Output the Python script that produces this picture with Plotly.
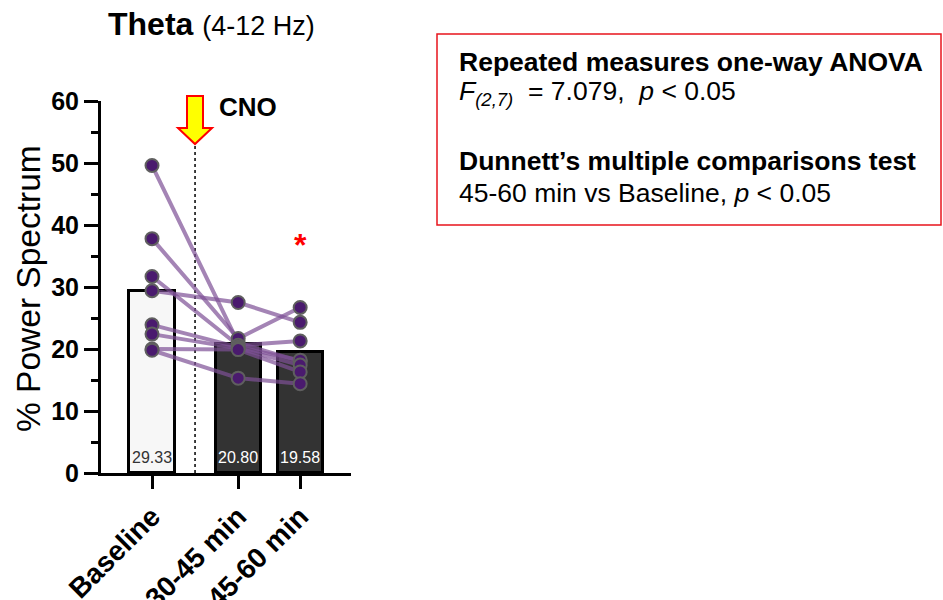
import plotly.graph_objects as go

# ---------------- data ----------------
categories = ["Baseline", "30-45 min", "45-60 min"]
means = [29.33, 20.80, 19.58]
baseline = [49.6, 37.8, 31.7, 29.4, 23.9, 22.4, 20.0, 19.8]
min30_45 = [21.0, 21.7, 20.6, 27.5, 20.3, 20.1, 19.9, 15.3]
min45_60 = [18.0, 26.7, 21.3, 24.3, 18.2, 17.4, 16.3, 14.4]
y_ticks = [0, 10, 20, 30, 40, 50, 60]

# ---------------- layout helpers ----------------
W, H = 943, 600
PL, PR, PT, PB = 101, 351, 101, 473   # plot area in pixels
x_pos = [0.0, 1.39, 2.39]             # category positions (uneven gap for CNO)
x_range = [-0.823, 3.21]
FONT = "Liberation Sans, Arial, sans-serif"


def px(x):
    return (x - PL) / (PR - PL)


def py(y):
    return (PB - y) / (PB - PT)


fig = go.Figure()

# bars
fig.add_trace(go.Bar(
    x=x_pos, y=means, width=0.73,
    marker=dict(color=["#f7f7f7", "#333333", "#333333"],
                line=dict(color="black", width=3)),
    hoverinfo="skip", showlegend=False,
))

# subject lines
series = [baseline, min30_45, min45_60]
for i in range(len(baseline)):
    fig.add_trace(go.Scatter(
        x=x_pos, y=[s[i] for s in series], mode="lines",
        line=dict(color="rgba(125,80,150,0.7)", width=4),
        showlegend=False, hoverinfo="skip",
    ))
# markers
for j, s in enumerate(series):
    fig.add_trace(go.Scatter(
        x=[x_pos[j]] * len(s), y=s, mode="markers",
        marker=dict(size=13, color="#4a1a6e", line=dict(color="#5f5f5f", width=2)),
        showlegend=False, hoverinfo="skip",
    ))

shapes = []
# dotted CNO line
shapes.append(dict(type="line", xref="x", yref="y", x0=0.694, x1=0.694, y0=0, y1=53.2,
                   line=dict(color="black", width=1.5, dash="dot"), layer="below"))
# arrow
pts = [(187, 96), (203, 96), (203, 128), (212, 128), (195, 144), (178, 128), (187, 128)]
path = "M " + " L ".join(f"{px(a):.4f},{py(b):.4f}" for a, b in pts) + " Z"
shapes.append(dict(type="path", xref="paper", yref="paper", path=path,
                   fillcolor="#ffff00", line=dict(color="#ff0000", width=2)))
# stats box
shapes.append(dict(type="rect", xref="paper", yref="paper",
                   x0=px(437), x1=px(941), y0=py(225), y1=py(34),
                   line=dict(color="#e8141c", width=1.5)))

ann = []
ann.append(dict(xref="paper", yref="paper", x=px(211), y=py(24), showarrow=False,
                text="<b>Theta</b> <span style='font-size:27px'>(4-12 Hz)</span>",
                font=dict(family=FONT, size=32, color="black"), xanchor="center", yanchor="middle"))
ann.append(dict(xref="paper", yref="paper", x=px(217), y=py(107), showarrow=False,
                text="<b>CNO</b>", font=dict(family=FONT, size=26, color="black"),
                xanchor="left", yanchor="middle"))
ann.append(dict(xref="paper", yref="paper", x=px(28), y=py(289), showarrow=False,
                text="% Power Spectrum", textangle=-90,
                font=dict(family=FONT, size=33.5, color="black"), xanchor="center", yanchor="middle"))
ann.append(dict(xref="x", yref="y", x=x_pos[2], y=36.7, showarrow=False,
                text="<b>*</b>", font=dict(family=FONT, size=32, color="#ff0000"),
                xanchor="center", yanchor="middle"))
label_colors = ["#333333", "white", "white"]
for j, m in enumerate(means):
    ann.append(dict(xref="x", yref="y", x=x_pos[j], y=2.5, showarrow=False,
                    text=f"{m:.2f}", font=dict(family=FONT, size=16, color=label_colors[j]),
                    xanchor="center", yanchor="middle"))

box_lines = [
    (62, "<b>Repeated measures one-way ANOVA</b>"),
    (93, "<i>F</i><sub><i>(2,7)</i></sub>  = 7.079,  <i>p</i> &lt; 0.05"),
    (161, "<b>Dunnett\u2019s multiple comparisons test</b>"),
    (193, "45-60 min vs Baseline, <i>p</i> &lt; 0.05"),
]
for yy, t in box_lines:
    ann.append(dict(xref="paper", yref="paper", x=px(457), y=py(yy), showarrow=False,
                    text=t, font=dict(family=FONT, size=26.5, color="black"),
                    xanchor="left", yanchor="middle"))

fig.update_layout(
    width=W, height=H,
    margin=dict(l=PL, r=W - PR, t=PT, b=H - PB, autoexpand=False),
    paper_bgcolor="white", plot_bgcolor="white",
    shapes=shapes, annotations=ann, bargap=0,
    xaxis=dict(range=x_range, tickvals=x_pos, ticktext=categories, tickangle=-45,
               automargin=False,
               showline=True, linecolor="black", linewidth=3, ticks="outside",
               ticklen=13, tickwidth=3, tickcolor="black", showgrid=False, zeroline=False,
               tickfont=dict(family=FONT, size=28, color="black", weight="bold")),
    yaxis=dict(range=[0, 60], tickvals=y_ticks, showline=True, linecolor="black", linewidth=3,
               automargin=False,
               ticks="outside", ticklen=14, tickwidth=3, tickcolor="black",
               showgrid=False, zeroline=False,
               minor=dict(dtick=5, ticks="outside", ticklen=7, tickwidth=3, tickcolor="black",
                          showgrid=False),
               tickfont=dict(family=FONT, size=25, color="black", weight="bold")),
)

fig.write_html("out.html", config={"displayModeBar": False},
               post_script="document.body.style.margin='0';document.body.style.overflow='hidden';")
